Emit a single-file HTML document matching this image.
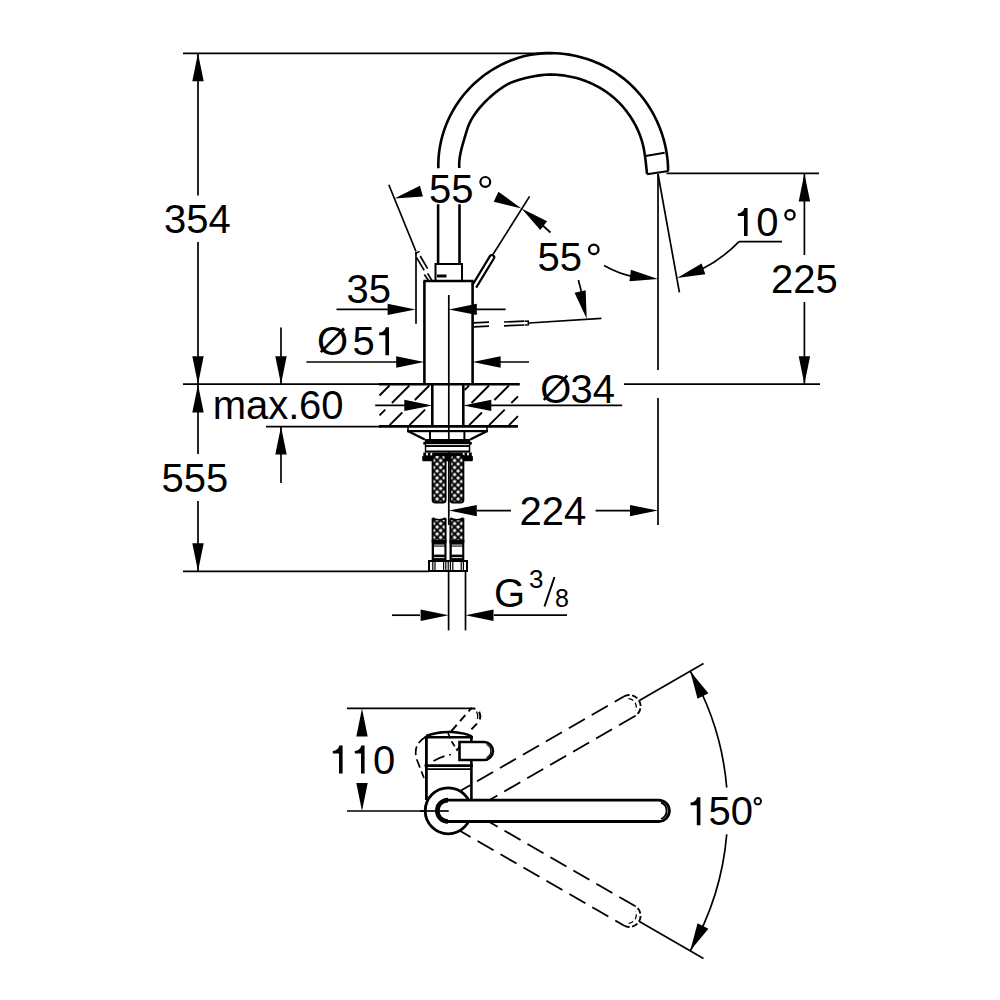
<!DOCTYPE html>
<html><head><meta charset="utf-8"><style>
html,body{margin:0;padding:0;background:#fff;}
svg{display:block;font-family:"Liberation Sans",sans-serif;}
</style></head><body>
<svg width="1000" height="1000" viewBox="0 0 1000 1000" stroke="#000" fill="#000">
<defs>
<pattern id="braid" patternUnits="userSpaceOnUse" width="7" height="7" x="433.6" y="453.5">
<rect width="7" height="7" fill="#000" stroke="none"/>
<path d="M0,-2.1L2.1,0L0,2.1L-2.1,0ZM7,-2.1L9.1,0L7,2.1L4.9,0ZM0,4.9L2.1,7L0,9.1L-2.1,7ZM7,4.9L9.1,7L7,9.1L4.9,7ZM3.5,1.4L5.6,3.5L3.5,5.6L1.4,3.5Z" fill="#fff" stroke="none"/>
</pattern>
</defs>
<rect width="1000" height="1000" fill="#fff" stroke="none"/>
<g stroke="#000">
<line x1="183" y1="53.3" x2="552" y2="53.3" stroke-width="1.7"/>
<line x1="198" y1="53.3" x2="198" y2="195.5" stroke-width="1.7"/>
<line x1="198" y1="242" x2="198" y2="384.2" stroke-width="1.7"/>
<polygon points="198,53.3 203.7,81.3 192.3,81.3" fill="#000" stroke="none"/>
<polygon points="198,384.2 192.3,356.2 203.7,356.2" fill="#000" stroke="none"/>
<text x="164" y="233.2" font-size="40" stroke="none">354</text>
<line x1="183" y1="384.2" x2="380" y2="384.2" stroke-width="1.7"/>
<line x1="624" y1="384.2" x2="820" y2="384.2" stroke-width="1.7"/>
<line x1="198" y1="384.2" x2="198" y2="454" stroke-width="1.7"/>
<line x1="198" y1="501" x2="198" y2="571.3" stroke-width="1.7"/>
<polygon points="198,384.4 203.7,412.4 192.3,412.4" fill="#000" stroke="none"/>
<polygon points="198,571.3 192.3,543.3 203.7,543.3" fill="#000" stroke="none"/>
<text x="161.6" y="492.4" font-size="40" stroke="none">555</text>
<line x1="183" y1="571.3" x2="429" y2="571.3" stroke-width="1.7"/>
<line x1="281" y1="327.4" x2="281" y2="384.2" stroke-width="1.7"/>
<polygon points="281,384.2 275.3,356.2 286.7,356.2" fill="#000" stroke="none"/>
<line x1="281" y1="426.6" x2="281" y2="483" stroke-width="1.7"/>
<polygon points="281,426.6 286.7,454.6 275.3,454.6" fill="#000" stroke="none"/>
<line x1="266" y1="426.6" x2="380" y2="426.6" stroke-width="1.7"/>
<text x="212.7" y="419.3" font-size="40" stroke="none">max.</text>
<text x="299.1" y="419.3" font-size="40" stroke="none">60</text>
<line x1="336.5" y1="309.4" x2="400" y2="309.4" stroke-width="1.7"/>
<polygon points="415.6,309.4 387.6,315.1 387.6,303.7" fill="#000" stroke="none"/>
<line x1="416" y1="252" x2="416" y2="323.8" stroke-width="1.7"/>
<text x="346.4" y="303.1" font-size="40" stroke="none">35</text>
<polygon points="448.8,309.4 476.8,303.7 476.8,315.1" fill="#000" stroke="none"/>
<line x1="470" y1="309.4" x2="505.6" y2="309.4" stroke-width="1.7"/>
<line x1="306.4" y1="362" x2="400" y2="362" stroke-width="1.7"/>
<polygon points="424.2,362 396.2,367.7 396.2,356.3" fill="#000" stroke="none"/>
<polygon points="472.6,362 500.6,356.3 500.6,367.7" fill="#000" stroke="none"/>
<line x1="490" y1="362" x2="529" y2="362" stroke-width="1.7"/>
<text x="317" y="355" font-size="40" stroke="none">O</text>
<line x1="320.8" y1="352.2" x2="344" y2="328.5" stroke-width="2.6"/>
<text x="352.6" y="354.7" font-size="40" stroke="none">5</text>
<path stroke="none" d="M389,327.2 L389,355.2 L385.4,355.2 L385.4,335.2 L379.2,335.2 L379.2,332.6 C382.8,332.4 385,330.4 385.7,327.2 Z"/>
<line x1="375.2" y1="405.4" x2="410" y2="405.4" stroke-width="1.7"/>
<polygon points="432.3,405.4 404.3,411.1 404.3,399.7" fill="#000" stroke="none"/>
<polygon points="463.3,405.4 491.3,399.7 491.3,411.1" fill="#000" stroke="none"/>
<line x1="480" y1="405.4" x2="622.2" y2="405.4" stroke-width="1.7"/>
<text x="540.2" y="402.6" font-size="40" stroke="none">O</text>
<line x1="543.8" y1="399.8" x2="567.2" y2="375.6" stroke-width="2.6"/>
<text x="570.4" y="402.6" font-size="40" stroke="none">34</text>
<line x1="424.4" y1="281" x2="424.4" y2="384.2" stroke-width="2.6"/>
<line x1="472.6" y1="281" x2="472.6" y2="384.2" stroke-width="2.6"/>
<line x1="423.4" y1="281" x2="473.6" y2="281" stroke-width="2.6"/>
<line x1="448.8" y1="295" x2="448.8" y2="525" stroke-width="1.7"/>
<line x1="379" y1="384.2" x2="519.8" y2="384.2" stroke-width="2.6"/>
<line x1="432.3" y1="384" x2="432.3" y2="426.4" stroke-width="2.6"/>
<line x1="463.3" y1="384" x2="463.3" y2="426.4" stroke-width="2.6"/>
<line x1="389.5" y1="385.5" x2="379.5" y2="395.5" stroke-width="1.9"/>
<line x1="409.4" y1="385.5" x2="391.9" y2="403" stroke-width="1.9"/>
<line x1="385.3" y1="409.6" x2="379.5" y2="415.4" stroke-width="1.9"/>
<line x1="429.3" y1="385.5" x2="414.8" y2="400" stroke-width="1.9"/>
<line x1="402.3" y1="412.5" x2="389.6" y2="425.2" stroke-width="1.9"/>
<line x1="425.1" y1="409.6" x2="409.5" y2="425.2" stroke-width="1.9"/>
<line x1="469.1" y1="385.5" x2="464.5" y2="390.1" stroke-width="1.9"/>
<line x1="489" y1="385.5" x2="471.5" y2="403" stroke-width="1.9"/>
<line x1="508.9" y1="385.5" x2="494.4" y2="400" stroke-width="1.9"/>
<line x1="481.9" y1="412.5" x2="469.2" y2="425.2" stroke-width="1.9"/>
<line x1="518" y1="396.3" x2="511.3" y2="403" stroke-width="1.9"/>
<line x1="504.7" y1="409.6" x2="489.1" y2="425.2" stroke-width="1.9"/>
<line x1="518" y1="416.2" x2="509" y2="425.2" stroke-width="1.9"/>
<path d="M438.35,168.15 L438.32,163.51 L438.50,158.88 L438.88,154.28 L439.45,149.70 L440.21,145.15 L441.17,140.64 L442.30,136.18 L443.62,131.77 L445.12,127.43 L446.80,123.14 L448.64,118.93 L450.66,114.80 L452.84,110.75 L455.18,106.79 L457.68,102.94 L460.33,99.18 L463.13,95.54 L466.08,92.01 L469.17,88.60 L472.40,85.32 L475.76,82.18 L479.24,79.17 L482.84,76.30 L486.54,73.57 L490.35,71.00 L494.26,68.57 L498.26,66.31 L502.34,64.21 L506.51,62.28 L510.74,60.52 L515.03,58.94 L519.39,57.54 L523.80,56.33 L528.25,55.30 L532.74,54.48 L537.26,53.84 L541.81,53.40 L546.37,53.14 L550.94,53.08 L555.52,53.20 L560.10,53.50 L564.66,53.98 L569.20,54.64 L573.72,55.47 L578.21,56.48 L582.66,57.66 L587.06,59.01 L591.41,60.52 L595.70,62.20 L599.92,64.04 L604.06,66.04 L608.12,68.20 L612.10,70.51 L615.97,72.97 L619.75,75.59 L623.41,78.35 L626.96,81.26 L630.38,84.31 L633.67,87.50 L636.83,90.83 L639.86,94.28 L642.75,97.84 L645.50,101.53 L648.10,105.31 L650.56,109.20 L652.87,113.19 L655.03,117.26 L657.04,121.41 L658.89,125.64 L660.58,129.94 L662.10,134.30 L663.46,138.71 L664.66,143.18 L665.68,147.69 L666.52,152.24 L667.19,156.82 L667.69,161.43 L667.99,166.05 L668.12,170.69" fill="none" stroke-width="2.6" stroke-linejoin="round"/>
<path d="M459.26,168.01 L459.18,164.16 L459.39,160.36 L459.87,156.61 L460.56,152.89 L461.41,149.20 L462.38,145.52 L463.43,141.86 L464.50,138.20 L465.57,134.54 L466.68,130.90 L467.89,127.31 L469.28,123.80 L470.92,120.39 L472.82,117.11 L474.92,113.93 L477.17,110.87 L479.55,107.90 L482.05,105.03 L484.66,102.26 L487.38,99.59 L490.19,97.01 L493.08,94.51 L496.04,92.11 L499.08,89.80 L502.17,87.59 L505.33,85.53 L508.61,83.70 L512.03,82.16 L515.59,80.89 L519.23,79.80 L522.92,78.79 L526.64,77.84 L530.35,76.98 L534.06,76.23 L537.79,75.60 L541.54,75.13 L545.31,74.82 L549.09,74.66 L552.88,74.66 L556.68,74.82 L560.47,75.12 L564.25,75.58 L568.01,76.18 L571.75,76.93 L575.46,77.82 L579.13,78.85 L582.77,80.03 L586.35,81.34 L589.88,82.79 L593.34,84.38 L596.74,86.09 L600.07,87.94 L603.31,89.92 L606.47,92.03 L609.53,94.26 L612.50,96.61 L615.36,99.09 L618.11,101.69 L620.74,104.40 L623.26,107.22 L625.67,110.15 L627.97,113.17 L630.14,116.29 L632.20,119.49 L634.14,122.78 L635.94,126.14 L637.60,129.58 L639.11,133.08 L640.47,136.63 L641.66,140.25 L642.69,143.90 L643.55,147.61 L644.27,151.34 L644.87,155.10 L645.37,158.88 L645.82,162.66 L646.22,166.45 L646.61,170.23 L647.02,173.99" fill="none" stroke-width="2.6" stroke-linejoin="round"/>
<line x1="645.4" y1="156" x2="664.7" y2="152.7" stroke-width="2"/>
<line x1="647" y1="174.3" x2="668.6" y2="171" stroke-width="2"/>
<line x1="438.1" y1="204.2" x2="438.1" y2="264" stroke-width="2.6"/>
<line x1="459.5" y1="204.2" x2="459.5" y2="264" stroke-width="2.6"/>
<rect x="435.5" y="264" width="26.5" height="17" fill="none" stroke-width="2"/>
<rect x="437" y="274.5" width="9.5" height="3" fill="#000" stroke="none"/>
<line x1="666.5" y1="173.4" x2="819" y2="173.4" stroke-width="1.7"/>
<line x1="804.4" y1="173.4" x2="804.4" y2="255" stroke-width="1.7"/>
<line x1="804.4" y1="302" x2="804.4" y2="384.2" stroke-width="1.7"/>
<polygon points="804.4,173.4 810.1,201.4 798.7,201.4" fill="#000" stroke="none"/>
<polygon points="804.4,384.2 798.7,356.2 810.1,356.2" fill="#000" stroke="none"/>
<text x="771" y="293.2" font-size="40" stroke="none">225</text>
<line x1="658" y1="173.8" x2="658" y2="370" stroke-width="1.7"/>
<line x1="658" y1="398" x2="658" y2="525" stroke-width="1.7"/>
<line x1="658" y1="174" x2="679.4" y2="292.4" stroke-width="1.7"/>
<path stroke="none" d="M747.6,208 L747.6,236 L744,236 L744,216 L737.8,216 L737.8,213.4 C741.4,213.2 743.6,211.2 744.3,208 Z"/>
<text x="756.3" y="236.4" font-size="40" stroke="none">0</text>
<circle cx="790" cy="214.9" r="4.6" fill="none" stroke-width="2.4"/>
<line x1="739" y1="241.6" x2="782" y2="241.6" stroke-width="1.7"/>
<path d="M739,241.6 C728,253 716,262 702,269" fill="none" stroke-width="1.7"/>
<polygon points="677,278 701.61,263.48 705.33,274.26" fill="#000" stroke="none"/>
<text x="429" y="203.2" font-size="40" stroke="none">55</text>
<circle cx="485.3" cy="181.9" r="4.9" fill="none" stroke-width="2.2"/>
<polygon points="394.4,198.4 419.96,185.66 422.89,196.47" fill="#000" stroke="none"/>
<line x1="388.8" y1="184.8" x2="416" y2="251.5" stroke-width="1.7"/>
<line x1="492" y1="256" x2="529.6" y2="196.4" stroke-width="1.7"/>
<polygon points="521.5,208.5 493.73,201.85 498.42,191.68" fill="#000" stroke="none"/>
<polygon points="521.5,208.5 547.1,221.16 540.26,230.03" fill="#000" stroke="none"/>
<line x1="540" y1="223" x2="550.5" y2="232.5" stroke-width="1.7"/>
<path d="M472.23,285.31 L489.93,256.11 A2.3,2.3 0 0 1 493.87,258.49 L476.17,287.69" fill="none" stroke-width="2.2"/>
<line x1="415.2" y1="253.6" x2="419.6" y2="251.4" stroke-width="1.6"/>
<line x1="416.6" y1="257.6" x2="424.2" y2="270.4" stroke-width="1.7"/>
<line x1="420.2" y1="256" x2="427.6" y2="268.6" stroke-width="1.7"/>
<line x1="424.4" y1="274.6" x2="429.2" y2="281.5" stroke-width="1.7"/>
<line x1="427.6" y1="273.4" x2="432" y2="280.6" stroke-width="1.7"/>
<text x="537.6" y="270.8" font-size="40" stroke="none">55</text>
<circle cx="593.8" cy="249.4" r="4.7" fill="none" stroke-width="2.3"/>
<path d="M604,265.6 Q620,274.5 634,276.8" fill="none" stroke-width="1.7"/>
<polygon points="658,279 629.51,281.18 630.92,269.87" fill="#000" stroke="none"/>
<line x1="578.4" y1="280" x2="583" y2="298" stroke-width="1.7"/>
<polygon points="586.7,318.7 574.58,292.82 585.66,290.14" fill="#000" stroke="none"/>
<line x1="529" y1="323" x2="601.4" y2="318.3" stroke-width="1.7"/>
<line x1="473.5" y1="322.8" x2="489" y2="322.2" stroke-width="1.7"/>
<line x1="473.5" y1="326.8" x2="489" y2="326.2" stroke-width="1.7"/>
<line x1="504" y1="322" x2="524.5" y2="321.2" stroke-width="1.7"/>
<line x1="504" y1="325.8" x2="524.5" y2="325" stroke-width="1.7"/>
<polyline points="525,321.2 528.2,321 528.4,324.8 525,325" fill="none" stroke-width="1.5"/>
<line x1="379" y1="426.4" x2="518" y2="426.4" stroke-width="2.6"/>
<rect x="407" y="430" width="81" height="2.2" fill="#000" stroke="none"/>
<line x1="408" y1="426" x2="408" y2="432" stroke-width="1.6"/>
<line x1="487" y1="426" x2="487" y2="432" stroke-width="1.6"/>
<polyline points="407.8,431 424.8,439.5" fill="none" stroke-width="2.4"/>
<polyline points="487.2,431 470.3,439.5" fill="none" stroke-width="2.4"/>
<line x1="430" y1="431" x2="430" y2="439.5" stroke-width="2"/>
<line x1="464.4" y1="431" x2="464.4" y2="439.5" stroke-width="2"/>
<rect x="424.8" y="439" width="45.5" height="13.5" fill="#000" stroke="none"/>
<rect x="423.3" y="442" width="48.5" height="2.6" fill="#000" stroke="none"/>
<rect x="426" y="444.2" width="43" height="0.9" fill="#fff" stroke="none"/>
<rect x="426.2" y="447" width="42.6" height="3.5" fill="#fff" stroke="none"/>
<rect x="423.3" y="452.5" width="48.5" height="3.6" fill="#000" stroke="none"/>
<rect x="426.1" y="452.9" width="1.8" height="2.6" fill="#fff" stroke="none"/>
<rect x="430.4" y="452.9" width="1.8" height="2.6" fill="#fff" stroke="none"/>
<rect x="462.7" y="452.9" width="1.8" height="2.6" fill="#fff" stroke="none"/>
<rect x="467.1" y="452.9" width="1.8" height="2.6" fill="#fff" stroke="none"/>
<rect x="422.2" y="455.8" width="50.7" height="5.4" rx="1.2" fill="#000" stroke="none"/>
<rect x="432.6" y="455" width="13" height="47.5" fill="url(#braid)" stroke="#000" stroke-width="1.9" rx="2.5"/>
<rect x="450.4" y="455" width="13" height="47.5" fill="url(#braid)" stroke="#000" stroke-width="1.9" rx="2.5"/>
<rect x="432.6" y="519" width="13" height="23" fill="url(#braid)" stroke="#000" stroke-width="1.9" rx="0"/>
<rect x="450.4" y="519" width="13" height="23" fill="url(#braid)" stroke="#000" stroke-width="1.9" rx="0"/>
<path stroke="none" fill="#fff" d="M431.6,517 L446.6,517 L446.6,518 Q439.1,521.5 431.6,518 Z"/>
<path fill="none" stroke-width="1.6" d="M432.6,518 Q439.1,521.5 445.6,518"/>
<path stroke="none" fill="#fff" d="M449.4,517 L464.4,517 L464.4,518 Q456.9,521.5 449.4,518 Z"/>
<path fill="none" stroke-width="1.6" d="M450.4,518 Q456.9,521.5 463.4,518"/>
<rect x="431.7" y="540" width="14.8" height="20.5" fill="#000" stroke="none"/>
<rect x="434" y="544.6" width="10.4" height="0.9" fill="#fff" stroke="none"/>
<rect x="434" y="546.6" width="10.4" height="8" fill="#fff" stroke="none"/>
<rect x="434" y="557.2" width="10.4" height="0.9" fill="#fff" stroke="none"/>
<rect x="449.5" y="540" width="14.8" height="20.5" fill="#000" stroke="none"/>
<rect x="451.8" y="544.6" width="10.4" height="0.9" fill="#fff" stroke="none"/>
<rect x="451.8" y="546.6" width="10.4" height="8" fill="#fff" stroke="none"/>
<rect x="451.8" y="557.2" width="10.4" height="0.9" fill="#fff" stroke="none"/>
<rect x="429" y="561" width="38" height="10" fill="#fff" stroke-width="2"/>
<rect x="432.2" y="561" width="1.2" height="10" fill="#000" stroke="none"/>
<rect x="434.4" y="561" width="1.2" height="10" fill="#000" stroke="none"/>
<rect x="443" y="561" width="1.2" height="10" fill="#000" stroke="none"/>
<rect x="445.2" y="561" width="1.2" height="10" fill="#000" stroke="none"/>
<rect x="447.6" y="561" width="1.2" height="10" fill="#000" stroke="none"/>
<rect x="449.8" y="561" width="1.2" height="10" fill="#000" stroke="none"/>
<rect x="452.2" y="561" width="1.2" height="10" fill="#000" stroke="none"/>
<rect x="460.6" y="561" width="1.2" height="10" fill="#000" stroke="none"/>
<rect x="462.8" y="561" width="1.2" height="10" fill="#000" stroke="none"/>
<line x1="448.6" y1="571" x2="448.6" y2="630.4" stroke-width="1.7"/>
<line x1="465.5" y1="571" x2="465.5" y2="630.4" stroke-width="1.7"/>
<line x1="392" y1="615.2" x2="420" y2="615.2" stroke-width="1.7"/>
<polygon points="448.6,615.2 420.6,620.9 420.6,609.5" fill="#000" stroke="none"/>
<polygon points="465.5,615.2 493.5,609.5 493.5,620.9" fill="#000" stroke="none"/>
<line x1="494" y1="615.2" x2="567" y2="615.2" stroke-width="1.7"/>
<text x="494" y="607" font-size="40" stroke="none">G</text>
<text x="529" y="588" font-size="26" stroke="none">3</text>
<line x1="554.5" y1="577" x2="544.5" y2="606.5" stroke-width="2"/>
<text x="555" y="607" font-size="25" stroke="none">8</text>
<polygon points="448.8,510.6 476.8,504.9 476.8,516.3" fill="#000" stroke="none"/>
<line x1="477" y1="510.6" x2="511" y2="510.6" stroke-width="1.7"/>
<text x="519.4" y="524.8" font-size="40" stroke="none">224</text>
<line x1="595.6" y1="510.6" x2="630" y2="510.6" stroke-width="1.7"/>
<polygon points="658,510.6 630,516.3 630,504.9" fill="#000" stroke="none"/>
<line x1="347" y1="708.4" x2="472" y2="708.4" stroke-width="1.7"/>
<line x1="347" y1="811" x2="448.7" y2="811" stroke-width="1.7"/>
<polygon points="362,708.4 367.7,736.4 356.3,736.4" fill="#000" stroke="none"/>
<polygon points="362,811 356.3,783 367.7,783" fill="#000" stroke="none"/>
<path stroke="none" d="M342.6,745.6 L342.6,773.6 L339,773.6 L339,753.6 L332.8,753.6 L332.8,751 C336.4,750.8 338.6,748.8 339.3,745.6 Z"/>
<path stroke="none" d="M364.6,745.6 L364.6,773.6 L361,773.6 L361,753.6 L354.8,753.6 L354.8,751 C358.4,750.8 360.6,748.8 361.3,745.6 Z"/>
<text x="373" y="774.2" font-size="40" stroke="none">0</text>
<line x1="442.4" y1="801.3" x2="623.83" y2="696.55" stroke-width="1.9" stroke-dasharray="18.5 8" stroke-dashoffset="13"/>
<line x1="453.6" y1="820.7" x2="635.03" y2="715.95" stroke-width="1.9" stroke-dasharray="18.5 8" stroke-dashoffset="21"/>
<path d="M623.83,696.55 A11.2,11.2 0 0 1 635.03,715.95" fill="none" stroke-width="1.9" stroke-dasharray="6 2.5"/>
<path d="M628.53,698.69 A8.5,8.5 0 0 1 635.53,710.81" fill="none" stroke-width="1.3" stroke-dasharray="5 3"/>
<line x1="442.4" y1="820.7" x2="623.83" y2="925.45" stroke-width="1.9" stroke-dasharray="18.5 8" stroke-dashoffset="12.4"/>
<line x1="453.6" y1="801.3" x2="635.03" y2="906.05" stroke-width="1.9" stroke-dasharray="18.5 8" stroke-dashoffset="20.7"/>
<path d="M623.83,925.45 A11.2,11.2 0 0 0 635.03,906.05" fill="none" stroke-width="1.9" stroke-dasharray="6 2.5"/>
<path d="M628.53,923.31 A8.5,8.5 0 0 0 635.53,911.19" fill="none" stroke-width="1.3" stroke-dasharray="5 3"/>
<line x1="426.4" y1="737" x2="426.4" y2="800" stroke-width="2.8"/>
<line x1="471.4" y1="737" x2="471.4" y2="800" stroke-width="2.6"/>
<line x1="424.6" y1="737.2" x2="473" y2="737.2" stroke-width="2.6"/>
<line x1="424.6" y1="765.6" x2="473" y2="765.6" stroke-width="2.6"/>
<line x1="426" y1="769.2" x2="471" y2="769.2" stroke-width="1.8"/>
<path d="M426,736 Q438,731.5 452,732 Q466,733 471.8,736.5" fill="none" stroke-width="2.6"/>
<path d="M459.5,742 L484,742 A9,9 0 0 1 484,760 L459.5,760 Z" fill="#fff" stroke-width="2.6"/>
<path d="M486.5,744.5 A7,7 0 0 1 486.5,757.5" fill="none" stroke-width="1.3"/>
<circle cx="448.2" cy="810.8" r="23" fill="#fff" stroke-width="2.8"/>
<path d="M448,800.1 L658.7,800.1 A10.7,10.7 0 0 1 658.7,821.5 L448,821.5" fill="#fff" stroke-width="2.8"/>
<path d="M448,800.1 A10.7,10.7 0 0 0 448,821.5" fill="none" stroke-width="4.6"/>
<path d="M661,802.6 A8.8,8.8 0 0 1 661,819" fill="none" stroke-width="1.8"/>
<line x1="420" y1="811" x2="448.7" y2="811" stroke-width="1.7"/>
<line x1="639.39" y1="700.5" x2="703.48" y2="663.5" stroke-width="1.7"/>
<line x1="639.39" y1="921.5" x2="703.48" y2="958.5" stroke-width="1.7"/>
<path d="M690.23,671.15 A279.7,279.7 0 0 1 726.71,787.5" fill="none" stroke-width="1.7"/>
<path d="M726.72,834.4 A279.7,279.7 0 0 1 690.23,950.85" fill="none" stroke-width="1.7"/>
<polygon points="690.23,671.15 708.41,693.3 697.55,698.85" fill="#000" stroke="none"/>
<polygon points="690.23,950.85 697.55,923.15 708.41,928.7" fill="#000" stroke="none"/>
<path stroke="none" d="M700.4,797.2 L700.4,825.2 L696.8,825.2 L696.8,805.2 L690.6,805.2 L690.6,802.6 C694.2,802.4 696.4,800.4 697.1,797.2 Z"/>
<text x="708.4" y="825.2" font-size="40" stroke="none">50</text>
<circle cx="757.8" cy="801.2" r="3.2" fill="none" stroke-width="1.9"/>
<path d="M451.5,731 L471,708.6 Q477,707.5 479.3,712 Q481.5,717 479,721.5 L468,733" fill="none" stroke-width="2" stroke-dasharray="8 5"/>
<path d="M476.5,711.5 Q478.5,715 477.5,719" fill="none" stroke-width="1.3"/>
<path d="M425.5,737 Q412,745 417,760 L424,778" fill="none" stroke-width="1.7" stroke-dasharray="9 4"/>
<path d="M433.5,761 Q442,756 451,754.5" fill="none" stroke-width="1.7" stroke-dasharray="12 5"/>
<path d="M448,733 L452,742 L457,750 L462,744" fill="none" stroke-width="1.7" stroke-dasharray="6 3"/>
<path d="M436,733 Q452,730 460,733" fill="none" stroke-width="1.5" stroke-dasharray="9 4"/>
</g>
<g stroke="none"></g>
</svg>
</body></html>
